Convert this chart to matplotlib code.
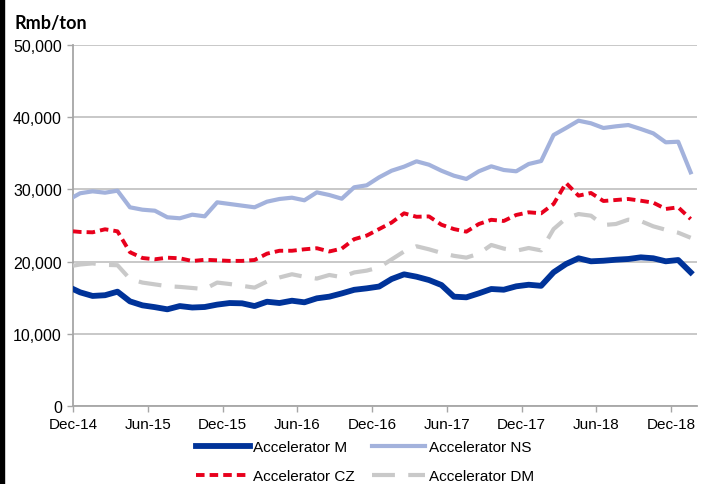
import numpy as np
import matplotlib
matplotlib.use("Agg")
import matplotlib.pyplot as plt
from matplotlib.patches import Rectangle
from matplotlib.ticker import FuncFormatter

# month offsets from Dec-14 (first point at Dec-14, then monthly mid-month points)
x_months = np.concatenate([[0.0], np.arange(50) + 0.57])

tick_pos = [0, 6, 12, 18, 24, 30, 36, 42, 48]
tick_labels = ["Dec-14", "Jun-15", "Dec-15", "Jun-16", "Dec-16",
               "Jun-17", "Dec-17", "Jun-18", "Dec-18"]

acc_m = [16210, 15750, 15250, 15350, 15840, 14500, 13950, 13700, 13400, 13850,
         13650, 13720, 14050, 14270, 14230, 13850, 14450, 14270, 14590, 14370,
         14920, 15150, 15600, 16100, 16300, 16550, 17590, 18240, 17910, 17450,
         16760, 15150, 15060, 15610, 16210, 16110, 16580, 16800, 16650, 18520,
         19670, 20460, 20040, 20120, 20260, 20360, 20590, 20460, 20040, 20220,
         18520]

acc_ns = [28900, 29450, 29720, 29530, 29810, 27510, 27180, 27040, 26130, 25990,
          26490, 26260, 28200, 27970, 27740, 27510, 28290, 28660, 28840, 28480,
          29580, 29210, 28700, 30280, 30550, 31660, 32570, 33130, 33870, 33400,
          32570, 31880, 31430, 32490, 33180, 32670, 32490, 33500, 33910, 37510,
          38480, 39490, 39130, 38480, 38710, 38890, 38340, 37740, 36500, 36580,
          32350]

acc_cz = [24190, 24100, 24050, 24470, 24190, 21300, 20500, 20320, 20540, 20460,
          20080, 20250, 20180, 20100, 20100, 20220, 21100, 21500, 21500, 21700,
          21850, 21400, 21800, 23100, 23600, 24500, 25400, 26680, 26200, 26250,
          25100, 24500, 24140, 25200, 25780, 25620, 26450, 26820, 26680, 27970,
          30870, 29120, 29490, 28380, 28520, 28660, 28420, 28150, 27280, 27510,
          25890]

acc_dm = [19430, 19600, 19750, 19550, 19500, 17600, 17100, 16850, 16600, 16500,
          16350, 16200, 17100, 16900, 16650, 16400, 17250, 17800, 18250, 17900,
          17650, 18150, 17850, 18500, 18750, 19200, 20300, 21400, 22120, 21700,
          21200, 20800, 20550, 21100, 22300, 21800, 21500, 21880, 21550, 24500,
          25990, 26580, 26350, 25060, 25200, 25800, 25600, 24880, 24400, 24000,
          23300]

plt.rcParams['font.family'] = ['Liberation Sans', 'DejaVu Sans']

fig = plt.figure(figsize=(7.05, 4.85), dpi=100)
ax = fig.add_axes([73/705, 1-407.2/485, (697-73)/705, (407.2-45.7)/485])

ax.plot(x_months, acc_ns, color="#A3B2DC", lw=3.0, solid_joinstyle='round', zorder=3,
        label="Accelerator NS")
ax.plot(x_months, acc_dm, color="#C9C9C9", lw=3.0, dashes=(5.5, 3.2), zorder=3,
        label="Accelerator DM")
ax.plot(x_months, acc_cz, color="#E8001C", lw=2.8, dashes=(2.2, 1.3), zorder=4,
        label="Accelerator CZ")
ax.plot(x_months, acc_m, color="#003399", lw=4.2, solid_joinstyle='round', zorder=5,
        label="Accelerator M")

ax.set_xlim(0, 50.08)
ax.set_ylim(0, 50000)
ax.set_yticks(range(0, 50001, 10000))
ax.yaxis.set_major_formatter(FuncFormatter(lambda v, p: f"{int(v):,}"))
ax.set_xticks(tick_pos)
ax.set_xticklabels(tick_labels)

ax.grid(axis='y', color="#BFBFBF", lw=1.2, zorder=0)
ax.set_axisbelow(True)
for s in ['top', 'right']:
    ax.spines[s].set_visible(False)
for s in ['left', 'bottom']:
    ax.spines[s].set_color("#A6A6A6")
    ax.spines[s].set_linewidth(1.3)
ax.tick_params(axis='both', direction='out', length=4, width=1.0, color="#A6A6A6",
               labelsize=11, labelcolor="#000000")
ax.tick_params(axis='y', pad=4, labelsize=11.5)
ax.tick_params(axis='x', pad=4)

fig.text(15/705, 1-23/485, "Rmb/ton", fontsize=13, fontweight='bold',
         family=['Lato', 'DejaVu Sans'], va='center', ha='left')

h = {l.get_label(): l for l in ax.get_lines()}
handles = [h["Accelerator M"], h["Accelerator CZ"], h["Accelerator NS"], h["Accelerator DM"]]
fig.legend(handles, [x.get_label() for x in handles], ncol=2, loc='center',
           bbox_to_anchor=(0.518, 0.046), frameon=False, fontsize=11,
           handlelength=3.5, handletextpad=0.25, columnspacing=1.1, labelspacing=0.95)

fig.patches.append(Rectangle((0, 0), 4/705, 1, transform=fig.transFigure,
                             color='black', zorder=10))

fig.savefig("out.png", dpi=100)
